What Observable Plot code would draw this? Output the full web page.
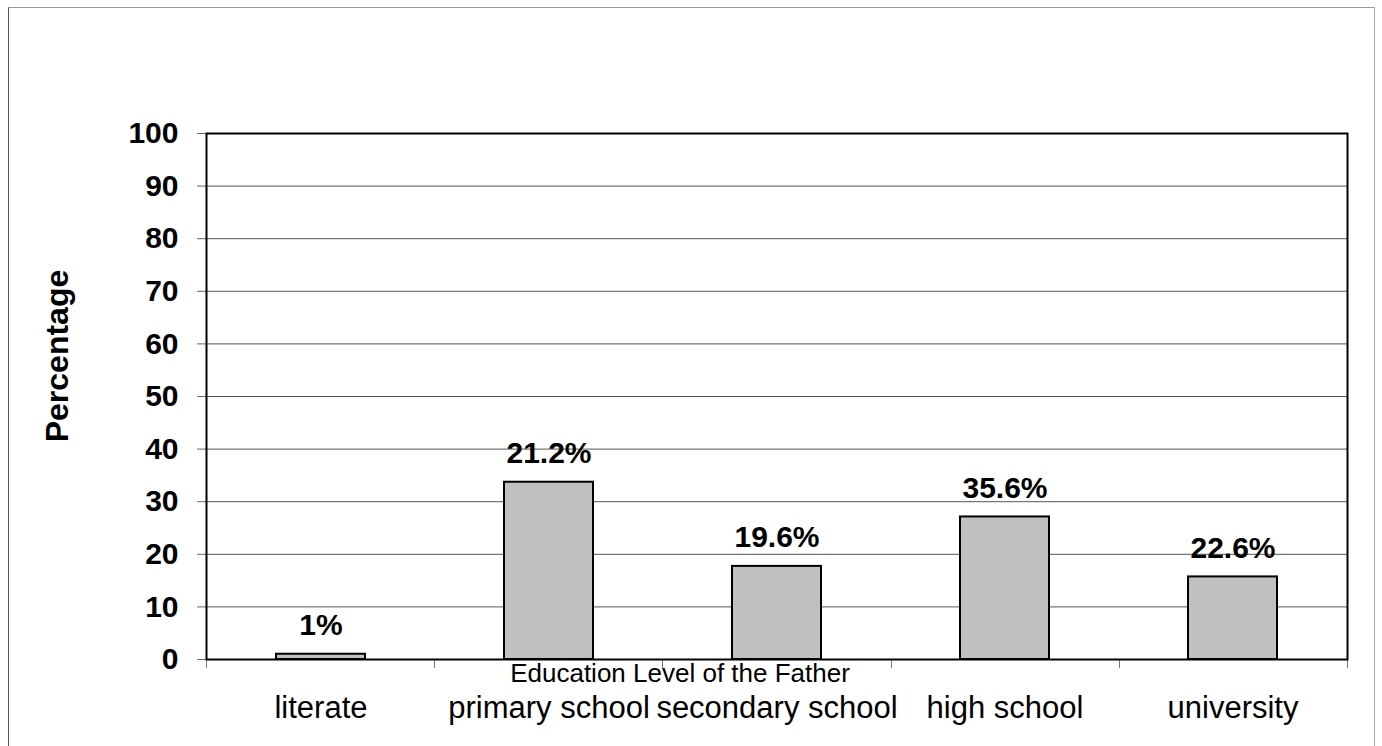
<!DOCTYPE html>
<html>
<head>
<meta charset="utf-8">
<script src="https://cdn.jsdelivr.net/npm/d3@7"></script>
<script src="https://cdn.jsdelivr.net/npm/@observablehq/plot@0.6"></script>
<style>
  html, body { margin: 0; padding: 0; background: #fff; overflow: hidden; }
  #wrap { position: relative; width: 1382px; height: 746px; }
  #wrap svg { position: absolute; left: 0; top: 0; }
  #border {
    position: absolute; left: 8px; top: 7px; width: 1367px; height: 800px;
    border-top: 1px solid #9a9a9a; border-left: 1px solid #555; border-right: 1px solid #aaa;
    box-sizing: border-box;
  }
  #ylabel {
    position: absolute; left: 57px; top: 356px;
    transform: translate(-50%, -50%) rotate(-90deg);
    font: bold 32px "Liberation Sans", Arial, sans-serif; white-space: nowrap; color: #000;
  }
</style>
</head>
<body>
<div id="wrap">
  <div id="border"></div>
  <div id="ylabel">Percentage</div>
</div>
<script>
// Education level of the father: categories, bar heights and the printed labels
const categories = ["literate", "primary school", "secondary school", "high school", "university"];
const barValues = [1.0, 33.7, 17.7, 27.1, 15.7];
const barLabels = ["1%", "21.2%", "19.6%", "35.6%", "22.6%"];
const yTicks = [0, 10, 20, 30, 40, 50, 60, 70, 80, 90, 100];
const xTitle = "Education Level of the Father";

const rows = categories.map((c, i) => ({category: c, value: barValues[i], label: barLabels[i]}));
const font = '"Liberation Sans", Arial, sans-serif';

// small gray ticks below the axis at the category boundaries
function boundaryTicks(index, scales, values, dimensions) {
  const {width, height, marginLeft, marginRight, marginBottom} = dimensions;
  const n = categories.length;
  const step = (width - marginLeft - marginRight) / n;
  const g = d3.create("svg:g").attr("stroke", "#777").attr("stroke-width", 1);
  for (let i = 0; i <= n; i++) {
    const x = Math.round(marginLeft + i * step) + 0.5;
    g.append("line")
      .attr("x1", x).attr("x2", x)
      .attr("y1", height - marginBottom).attr("y2", height - marginBottom + 9);
  }
  return g.node();
}

const chart = Plot.plot({
  width: 1382,
  height: 746,
  marginLeft: 206,
  marginRight: 35,
  marginTop: 133,
  marginBottom: 87,
  style: {fontFamily: font, background: "transparent", overflow: "visible"},
  x: {domain: categories, paddingInner: 0.61, paddingOuter: 0.305, label: null},
  y: {domain: [0, 100], label: null},
  marks: [
    Plot.gridY(yTicks, {stroke: "#555", strokeOpacity: 1, strokeWidth: 1}),
    Plot.axisY(yTicks, {
      tickSize: 9, tickPadding: 19, stroke: "#666", fontSize: 30, fontWeight: "bold",
      fill: "#000", label: null, tickFormat: d => String(d)
    }),
    Plot.axisX({tickSize: 0, tickPadding: 36, fontSize: 31, fill: "#000", label: null}),
    boundaryTicks,
    Plot.barY(rows, {x: "category", y: "value", fill: "#c0c0c0", stroke: "#000", strokeWidth: 2}),
    Plot.text(rows, {
      x: "category", y: "value", text: "label", dy: -19, lineAnchor: "bottom",
      fontSize: 30, fontWeight: "bold", fill: "#000"
    }),
    Plot.text([xTitle], {
      frameAnchor: "bottom", text: d => d, dx: -97, dy: 22, lineAnchor: "bottom",
      fontSize: 26, fill: "#000"
    }),
    Plot.frame({stroke: "#000", strokeWidth: 2})
  ]
});

document.getElementById("wrap").prepend(chart);
</script>
</body>
</html>
